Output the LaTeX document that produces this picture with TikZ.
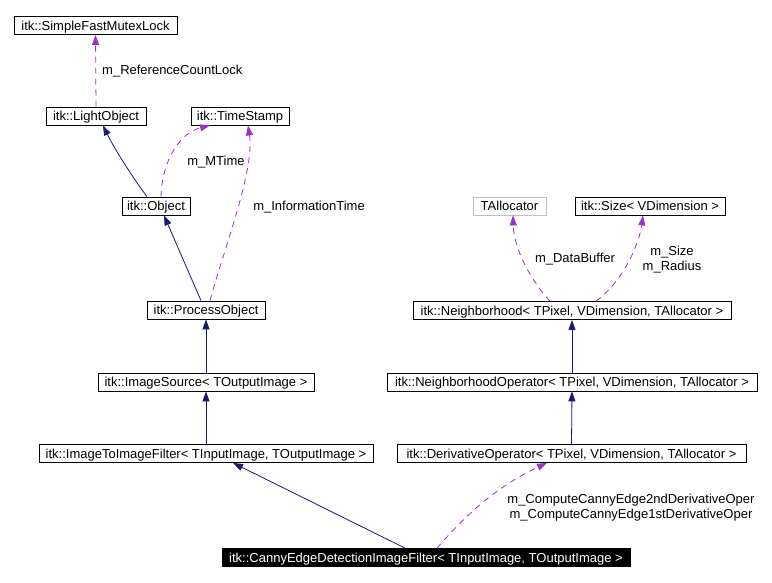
\documentclass[tikz,border=0pt]{standalone}
\usepackage{fontspec}
\setmainfont{Liberation Sans}
\usetikzlibrary{arrows.meta}
\definecolor{inhcol}{HTML}{191970}
\definecolor{depcol}{HTML}{9A32CD}
\definecolor{grayedge}{HTML}{BFBFBF}
\tikzset{
  cls/.style={draw=black, line width=0.8pt, fill=white, inner sep=0pt, minimum height=18pt,
    text height=9.6pt, text depth=0.4pt,
    font=\fontsize{13}{15}\selectfont, text=black, anchor=center},
  ext/.style={cls, draw=grayedge},
  main/.style={cls, draw=black, fill=black, text=white},
  inh/.style={draw=inhcol, line width=0.8pt, -{Triangle[length=10pt,width=7pt]}},
  dep/.style={draw=depcol, line width=0.8pt, dash pattern=on 6pt off 5pt, -{Triangle[length=10pt,width=7pt]}},
  lbl/.style={font=\fontsize{13}{15}\selectfont, inner sep=0pt, align=center}
}
\begin{document}
\begin{tikzpicture}[x=1pt,y=-1pt]
\useasboundingbox[fill=white] (0,0) rectangle (772,582);
% nodes
\node[cls, minimum width=163pt] (mutex) at (95.5,25.5) {itk::SimpleFastMutexLock};
\node[cls, minimum width=100pt] (light) at (96,116) {itk::LightObject};
\node[cls, minimum width=98pt] (ts) at (240,116) {itk::TimeStamp};
\node[cls, minimum width=68pt] (object) at (156,206) {itk::Object};
\node[cls, minimum width=118pt] (process) at (206,310) {itk::ProcessObject};
\node[cls, minimum width=216pt] (imgsrc) at (206,382) {itk::ImageSource< TOutputImage >};
\node[cls, minimum width=334pt] (i2i) at (206,453.5) {itk::ImageToImageFilter< TInputImage, TOutputImage >};
\node[main, minimum width=408pt] (canny) at (426,557.5) {itk::CannyEdgeDetectionImageFilter< TInputImage, TOutputImage >};
\node[ext, minimum width=73pt] (talloc) at (509.5,206) {TAllocator};
\node[cls, minimum width=150pt] (size) at (650,206) {itk::Size< VDimension >};
\node[cls, minimum width=318pt] (neigh) at (572,310.5) {itk::Neighborhood< TPixel, VDimension, TAllocator >};
\node[cls, minimum width=370pt] (nop) at (572,382) {itk::NeighborhoodOperator< TPixel, VDimension, TAllocator >};
\node[cls, minimum width=349pt] (dop) at (571.5,453.5) {itk::DerivativeOperator< TPixel, VDimension, TAllocator >};
% edges
\draw[dep] (light.north) -- (mutex.south);
\node[lbl, anchor=west] (lref) at (102,71) {m\_ReferenceCountLock};
\draw[inh] ([xshift=-9pt]object.north) .. controls (138,185) and (116,152) .. ([xshift=7pt]light.south);
\draw[dep] ([xshift=5pt]object.north) .. controls (162,160) and (180,133) .. ([xshift=-30pt]ts.south);
\node[lbl] (lmtime) at (216,162) {m\_MTime};
\draw[inh] ([xshift=-5pt]process.north) -- ([xshift=8pt]object.south);
\draw[dep] ([xshift=4pt]process.north) .. controls (222,255) and (255,170) .. ([xshift=8pt]ts.south);
\node[lbl] (linfo) at (309,207) {m\_InformationTime};
\draw[inh] (imgsrc.north) -- (process.south);
\draw[inh] (i2i.north) -- (imgsrc.south);
\draw[inh] ([xshift=-21pt]canny.north) -- ([xshift=27pt]i2i.south);
\draw[dep] ([xshift=11pt]canny.north) .. controls (470,510) and (500,485) .. ([xshift=-24.5pt]dop.south);
\node[lbl] (lcanny) at (631,507.5) {m\_ComputeCannyEdge2ndDerivativeOper\\m\_ComputeCannyEdge1stDerivativeOper};
\draw[inh] (dop.north) -- (nop.south);
\draw[inh] (nop.north) -- (neigh.south);
\draw[dep] ([xshift=-22pt]neigh.north) .. controls (532,282) and (514,250) .. ([xshift=3.5pt]talloc.south);
\node[lbl] (ldata) at (575,259) {m\_DataBuffer};
\draw[dep] ([xshift=24pt]neigh.north) .. controls (625,280) and (640,240) .. ([xshift=-7pt]size.south);
\node[lbl] (lsize) at (672,259.5) {m\_Size\\m\_Radius};
\end{tikzpicture}
\end{document}
